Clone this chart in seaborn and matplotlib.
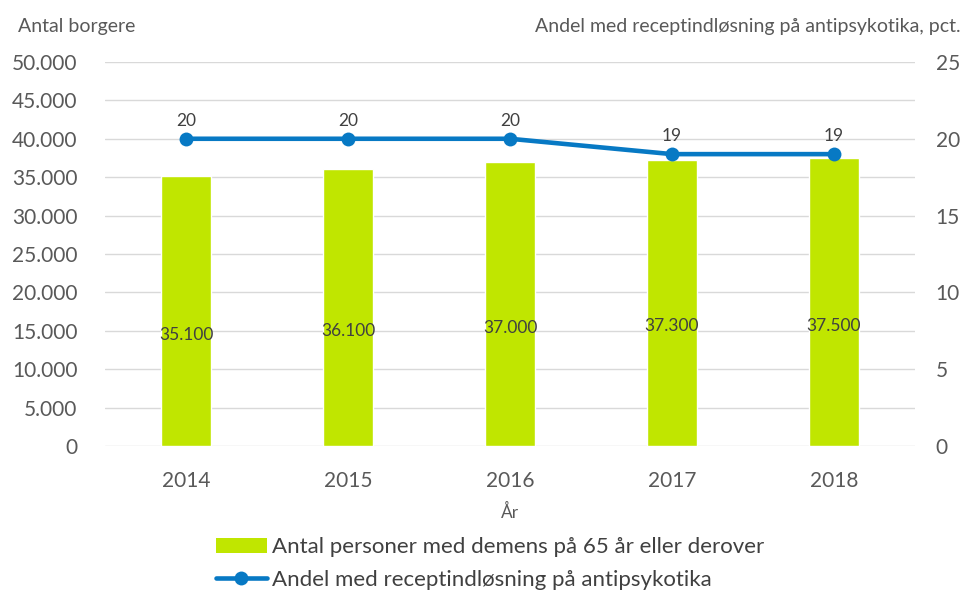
import numpy as np
import pandas as pd
import matplotlib
matplotlib.use("Agg")
import matplotlib.pyplot as plt
import seaborn as sns
from matplotlib.patches import Patch
from matplotlib.lines import Line2D

years = ["2014", "2015", "2016", "2017", "2018"]
antal = [35100, 36100, 37000, 37300, 37500]
andel = [20, 20, 20, 19, 19]
left_ticks = [0, 5000, 10000, 15000, 20000, 25000, 30000, 35000, 40000, 45000, 50000]
right_ticks = [0, 5, 10, 15, 20, 25]

bar_label = "Antal personer med demens på 65 år eller derover"
line_label = "Andel med receptindløsning på antipsykotika"

green = "#C0E600"
blue = "#0779C4"
grey_txt = "#595959"

sns.set_style("white")
plt.rcParams["font.family"] = ["Lato", "DejaVu Sans"]

df = pd.DataFrame({"aar": years, "antal": antal, "andel": andel})

fig = plt.figure(figsize=(9.65, 5.9), dpi=100)
ax = fig.add_axes([0.109, 0.244, 0.839, 0.651])

sns.barplot(data=df, x="aar", y="antal", color=green, width=0.31, saturation=1, ax=ax)
ax.set_ylim(0, 50000)
ax.set_yticks(left_ticks)
ax.set_yticklabels([f"{t:,}".replace(",", ".") for t in left_ticks])
ax.yaxis.grid(True, color="#D9D9D9", linewidth=1)
ax.set_axisbelow(True)
for s in ax.spines.values():
    s.set_visible(False)
ax.tick_params(axis="x", length=0, labelsize=15, colors=grey_txt, pad=18)
ax.tick_params(axis="y", length=0, labelsize=15, colors=grey_txt, pad=20)
ax.set_xlabel("År", fontsize=12.5, color=grey_txt, labelpad=9)
ax.set_ylabel("")

# value labels roughly in the lower middle of the bars
for i, v in enumerate(antal):
    ax.annotate(f"{v:,}".replace(",", "."), (i, v / 2), xytext=(0, -17),
                textcoords="offset points", ha="center", va="center",
                fontsize=12.5, color="#404040")

ax2 = ax.twinx()
sns.lineplot(x=np.arange(len(years)), y=andel, ax=ax2, color=blue, linewidth=3.3,
             marker="o", markersize=10, markeredgewidth=0)
ax2.set_ylim(0, 25)
ax2.set_yticks(right_ticks)
for s in ax2.spines.values():
    s.set_visible(False)
ax2.tick_params(axis="y", length=0, labelsize=15, colors=grey_txt, pad=15)
for i, v in enumerate(andel):
    ax2.annotate(str(v), (i, v), xytext=(0, 7), textcoords="offset points",
                 ha="center", va="bottom", fontsize=12.5, color="#404040")

ax.set_xlim(-0.5, 4.5)

fig.text(0.019, 0.955, "Antal borgere", fontsize=14, color=grey_txt, va="center")
fig.text(0.995, 0.955, "Andel med receptindløsning på antipsykotika, pct.",
         fontsize=14, color=grey_txt, va="center", ha="right")

handles = [Patch(facecolor=green, edgecolor="none"),
           Line2D([0], [0], color=blue, linewidth=3.3, marker="o", markersize=10, markeredgewidth=0)]
fig.legend(handles, [bar_label, line_label], loc="upper center",
           bbox_to_anchor=(0.508, 0.123), ncol=1, frameon=False, fontsize=16,
           labelcolor="#404040", handlelength=2.3, handletextpad=0.25, labelspacing=0.55)

fig.savefig("out.png", dpi=100)
